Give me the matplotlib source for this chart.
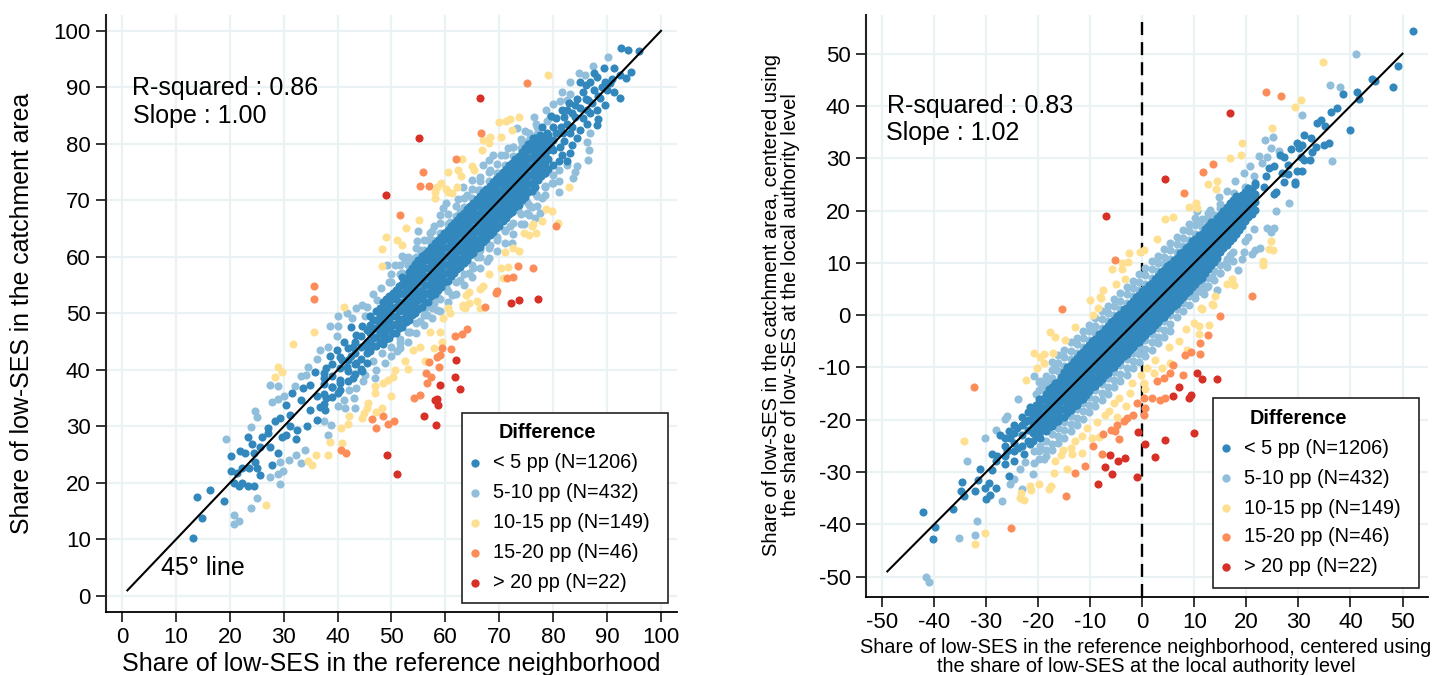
import numpy as np
import matplotlib
matplotlib.use('Agg')
import matplotlib.pyplot as plt
from matplotlib.lines import Line2D
from matplotlib.patches import Rectangle

plt.rcParams['font.family'] = ['Liberation Sans', 'DejaVu Sans']
plt.rcParams['axes.unicode_minus'] = False

W, H = 1435, 675
BLUE, LIGHT, YELLOW, ORANGE, RED = '#3288bd', '#91bfdb', '#fee090', '#fc8d59', '#d73027'
legend_labels = ['< 5 pp (N=1206)', '5-10 pp (N=432)', '10-15 pp (N=149)', '15-20 pp (N=46)', '> 20 pp (N=22)']

# left panel, values
l_red = [(66.4,88.2),(55.1,81),(48.9,71),(72.2,51.8),(73.6,52.3),(77.1,52.5),(49.2,25),(51,21.6),(56,31.9),(58.2,30.3),
         (58.4,34.8),(58.1,34.7),(58.7,33.8),(59,37.4),(62.8,36.6),(61.8,38.7),(61.9,41.7)]
l_orange = [(75.1,90.7),(66.6,82),(62,77.3),(55.9,75),(55.3,72.5),(56.9,72.6),(51.5,67.4),(80.5,65.4),(73.5,58.4),(76.2,58.1),
            (71.4,56.3),(72.5,56.5),(69.5,54),(69.4,53.6),(67.4,51.2),(35.7,54.8),(35.6,52.6),(40.7,25.9),(41.5,25.3),(46.4,31.3),
            (47.1,29.7),(48.5,31.8),(49.4,30.5),(50.5,30.9),(54.2,35.1),(55.3,35.5),(56.5,37.6),(56.4,39.4),(57.4,38.8),(58.8,40.6),
            (57,41.4),(58.4,42.3),(59,42.7),(59.3,43.8),(61,43.7),(61.8,46),(63,46.4),(64.1,47.2)]
l_yellow = [(79,92.2),(73.7,84.8),(71.9,84.4),(71.2,84.1),(70,83.9),(72.4,82.5),(70.3,81.2),(68.3,81.3),(66.9,80.7),(68,80.1),
            (66.7,78.9),(63,77.4),(65,76),(65.3,75.4),(60.5,75.1),(62.3,75.3),(62.9,74.3),(59.1,73.1),(58.4,72.3),(58.1,71.4),
            (58,70.5),(60.1,72),(60.5,71.5),(61.2,71.3),(62.2,72.3),(55.1,66.6),(52.6,65.1),(48.9,63.6),(51.1,63),(51.9,62.1),
            (48.3,61.4),(48.2,58.4),(83,72.4),(78.6,68.5),(79.8,68.1),(80.8,66),(78,66.4),(76.3,65.9),(76,65.4),(74.5,64.3),
            (75.5,63.9),(76.9,64.2),(72.6,61.6),(73.7,61),(71.1,60.8),(70.4,58),(71.7,58.3),(70.6,56.2),(68,56.9),(67,54.9),
            (66.4,54.3),(64.4,53.8),(63.8,53.3),(65.8,52.2),(64.3,51.8),(63.3,51.5),(63.6,50.9),(60.5,50.9),(66.4,50.9),(35.6,46.7),
            (31.7,44.6),(28.9,40.6),(29.6,39.7),(28.4,38.7),(41.1,51.2),(26.7,16.1),(35.9,25),(38.3,25),(34.6,23.9),(35.2,23.1),
            (38.6,27.2),(40.8,27.1),(40.6,29.7),(41.9,30.5),(42.1,31.9),(44.5,31.5),(44.9,32.3),(45.7,34.2),(45.5,33.2),(47.2,32.5),
            (48.2,33.3),(50,35.4),(47,37.1),(47,35.9),(48.5,37.6),(49.4,38.2),(50.3,38.8),(50.6,40),(52.5,41.5),(53.1,40.1),
            (53.9,43.6),(55.3,44.1),(57.1,46.8),(59,46.8),(57.8,43.8),(59.3,45),(56.2,41.6),(59.6,49.2),(60.9,50),(63.3,51.2)]
l_light = [(90.1,95.3),(87.4,93.7),(84.7,92.5),(85.9,92.2),(83.2,91),(81.6,89.2),(83.1,88.8),(82.5,87.8),(81.3,87.5),(80,87),
           (78.6,86),(79.4,84.8),(78.8,84.1),(76.4,84.7),(76.8,83.6),(77,83),(73.2,82.8),(74.8,82.2),(74.2,80.4),(72.6,79.5),
           (71.7,79.2),(70.4,78),(68.9,78),(68,77.2),(67,76.2),(68.3,75.4),(66.4,74.2),(64.9,73.6),(63.2,72.4),(66.1,71.8),
           (64,71),(62.4,70.2),(60.2,69.6),(59.6,68.6),(59,67.4),(60.9,66.2),(62.7,68),(57.8,65.4),(57.1,64.2),(54.9,64.6),
           (56.8,63),(54.7,62.8),(55.3,61.2),(54,59.7),(51.9,60.2),(52.5,59.5),(50.6,58.6),(49.1,58.6),(51.9,57.1),(86.8,81.9),
           (86.2,80.4),(86.7,78.9),(86.5,77.2),(84.4,76),(82.5,76.3),(81,75.4),(84,75.1),(83.6,73.9),(81,73.4),(79.7,73),
           (78.5,72.4),(81,71.4),(76.9,71.2),(77.9,70.4),(75.1,69.8),(76,68.9),(73.5,68.3),(75.1,67.7),(77.6,67.8),(76.6,66.8),
           (74.5,65.9),(72,65.4),(71.1,64.8),(69.5,63.6),(72.3,62.4),(68.3,62.1),(66.4,61.2),(65.8,60),(67.7,59.2),(65.2,58),
           (64.3,57.1),(62.7,55.9),(60.2,54.7),(61.2,53.3),(58.4,53),(57.8,51.8),(56.2,50.9),(19.3,27.8),(20.8,14.3),(21.7,13.3),
           (20.7,12.8),(23.9,15.6),(25.1,17.4),(29.4,19.8),(27.5,21.1),(29,21.5),(29.9,22.1),(29.4,23.7),(31,24),(32.3,24.9),
           (33.9,25.9),(33.3,23.6),(38.3,28.5),(37.5,31),(38.8,30.3),(40,33.6),(41.4,33.2),(43.2,33.3),(41.2,34.7),(43.1,35),
           (42.2,36.4),(43.5,36.8),(44.8,38),(45.1,39.1),(47,38.5),(47.2,40),(46.6,41.5),(48.8,41.2),(48.2,43),(51,43.3),
           (51.6,44.7),(53.4,46.8),(55.3,48.6),(56.5,49.7),(58.4,50.6),(24.6,32.8),(25,31.6),(23.9,29.9),(27.8,34.3),(29,34.9),
           (30.1,35.4),(27.5,37.4),(29,37.2),(32.1,37.2),(34.5,40.6),(33.3,39),(34.1,39.1),(36.1,41.9),(36.7,43.6),(38.3,44.1),
           (38.6,47.7),(40,47.8),(39.8,46),(40.1,49.5),(41.7,50),(42.6,49.2),(44.5,51.5),(45.4,51.2),(47.3,52.4),(45,49.5),
           (43.4,51),(46.5,53.5),(48,54.5),(49.5,55.5)]
l_light_x = [50,51.5,53,54.5,56,57.5,59,60.5,62,63.5,65,66.5,68,69.5,71,72.5,74,75.5,77,78.5,80]
l_light_y = [[42.5,44,55.6,57],[43.8,45.5,57,58.5],[45,46.8,58.5,60],[46.5,48.3,60,61.5],[48,49.8,61.2,63],[49.2,51,63,64.5],
             [50.5,52.5,64.2,66],[52,54,65.8,67.6],[53.5,55.5,67.2,69],[55,57,68.8,70.5],[56.5,58.5,70.4,72],[58,60,71.8,73.5],
             [59.8,61.6,73.4,75],[61,63,74.8,76.5],[62.5,64.6,76.3,78],[64,66,77.8,79.5],[65.8,67.6,79.2,80.8],[67.5,69.2,80.6,82],
             [69,70.8,81.8],[71,72.6],[73,74.5]]
l_blue = [(13.1,10.3),(14.8,13.8),(13.9,17.5),(16.3,18.7),(18.9,16.8),(20.3,24.8),(20.2,22.1),(20.7,20),(21.7,19.4),(22.2,20),
          (23.3,19.5),(24.4,19.5),(25.6,21.4),(25,22.6),(23.6,22.6),(22.2,22.7),(21.3,21.7),(24.7,23.7),(21.9,25.6),(22.8,25.3),
          (24.4,25.3),(23.3,28.2),(24.2,26.9),(25.6,26.4),(26,28.1),(27.1,29.7),(27.5,26.4),(28.9,25.3),(27.8,23.2),(27.1,28.8),
          (29.6,28.2),(30.5,28.5),(32.2,27.8),(32.4,29.4),(34.3,30.1),(31.2,30),(29.3,31.5),(28.4,30.9),(31.2,32),(30.5,33.8),
          (31.5,35.9),(33.3,34.7),(33.6,36.8),(34.9,37.4),(35.8,39.7),(36.1,31.2),(34.9,32.9),(36.7,33.5),(37.9,35),(36.1,35.3),
          (37.7,32.9),(37.4,38.5),(38.9,37),(40.4,37.6),(40.1,35.9),(42.9,38.5),(37.9,40.3),(38.6,42.4),(39.8,43.6),(41.7,40.6),
          (43.5,41.2),(41.1,45),(43.5,46.2),(45.4,44.1),(42.9,44.1),(44.6,39.8),(40.8,41.8),(42.5,42.5),(44.5,47.8),(42.5,47.6),
          (92.6,97),(93.8,96.6),(96,96.5),(89.5,93.4),(91.3,93.5),(94.4,92.8),(93.5,91.6),(92.4,88.2),(91.2,89.2),(88.1,91.9),
          (86.8,91),(87.5,89.5),(89.6,91),(85.6,89.2),(88.7,88.2),(89.7,86.9),(84.4,88),(86.5,87.8),(85,86.3),(88.1,86),
          (86.8,85.4),(88.4,84.4),(88.1,83.3),(86.2,83.6),(84,84.8),(82.5,86),(81.6,86),(80.6,84.5),(82.5,83.6),(85,82.5),
          (84.4,81),(83.1,81.9),(81.9,81.9),(80,83),(78.8,81.9),(77.6,81.6),(76.3,81),(80,80.7),(81.3,79.5),(83.4,79.8),
          (83.1,78.3),(81.6,78),(80,78.9),(80,76.3),(78.5,74.8),(92.4,92.2),(90.5,90.7),(88.4,88.4),(86.2,86),(87.2,87.2),
          (85.5,84.5),(83.5,85.5),(81.5,83),(83.5,83),(79.5,79.5),(82,80.5),(90,89.5),(91,91.5),(86,90.5),(84,86.8),
          (89,90),(87.5,92.5),(86,88),(85,91),(83,87.3),(82,84.8),(80.5,82),(79.5,85),(81,77),(82.5,77),(78,83)]
l_band_x = [46,47.2,48.4,49.6,50.8,52,53.2,54.4,55.6,56.8,58,59.2,60.4,61.6,62.8,64,65.2,66.4,67.6,68.8,70,71.2,72.4,73.6,74.8,76,77.2,78.4,
            46.6,47.8,49,50.2,51.4,52.6,53.8,55,56.2,57.4,58.6,59.8,61,62.2,63.4,64.6,65.8,67,68.2,69.4,70.6,71.8,73,74.2,75.4,76.6,77.8,79,
            37.5,39,40.5,42,43.2,44.4,45.4]
l_band_y = [[43.4,45,46.5,48,49.6],[44.2,45.9,47.4,48.9,50.4],[44.6,46.1,47.6,49.1,50.6,52.1],[45.7,47.2,48.7,50.2,51.7,53.1],
            [46.6,48.1,49.6,51.1,52.6,54.1],[47.6,49.1,50.6,52.1,53.6,55.2,56.4],[48.9,50.4,51.9,53.4,54.9,56.4,57.4],
            [50,51.5,53,54.5,56,57.5,58.8],[51.2,52.7,54.2,55.7,57.2,58.7,60.1],[52.1,53.6,55.1,56.6,58.1,59.6,61.1],
            [53.4,54.9,56.4,57.9,59.4,60.9,62.4],[54.7,56.2,57.7,59.2,60.7,62.2,63.6],[55.8,57.3,58.8,60.3,61.8,63.3,64.8],
            [57.1,58.6,60.1,61.6,63.1,64.6,66],[58.2,59.7,61.2,62.7,64.2,65.7,67.2],[59.5,61,62.5,64,65.5,67,68.4],
            [60.7,62.2,63.7,65.2,66.7,68.2,69.6],[61.8,63.3,64.8,66.3,67.8,69.3,70.7],[63.1,64.6,66.1,67.6,69.1,70.6,72],
            [64.4,65.9,67.4,68.9,70.4,71.9,73.2],[65.5,67,68.5,70,71.5,73,74.4],[66.8,68.3,69.8,71.3,72.8,74.3,75.5],
            [68,69.5,71,72.5,74,75.5,76.7],[69.2,70.7,72.2,73.7,75.2,76.7,77.9],[70.6,72.1,73.6,75.1,76.6,78.1,79.2],
            [71.6,73.1,74.6,76.1,77.6,79.1,80.4],[73.6,75.1,76.6,78.1,79.6,80.9],[74.8,76.6,78.1,79.6,81],
            [44.2,45.7,47.2,48.8],[45,46.6,48.1,49.7,51],[45.4,46.9,48.4,49.9,51.4,52.6],[46.5,48,49.5,51,52.5,53.7],
            [47.4,48.9,50.4,51.9,53.4,54.8],[48.4,49.9,51.4,52.9,54.4,55.9],[49.7,51.2,52.7,54.2,55.7,57.2,58],
            [50.8,52.3,53.8,55.3,56.8,58.3,59.4],[52,53.5,55,56.5,58,59.5,60.6],[53,54.5,56,57.5,59,60.5,61.8],
            [54.2,55.7,57.2,58.7,60.2,61.7,63],[55.5,57,58.5,60,61.5,63,64.2],[56.6,58.1,59.6,61.1,62.6,64.1,65.4],
            [57.9,59.4,60.9,62.4,63.9,65.4,66.6],[59,60.5,62,63.5,65,66.5,67.8],[60.3,61.8,63.3,64.8,66.3,67.8,69],
            [61.5,63,64.5,66,67.5,69,70.2],[62.6,64.1,65.6,67.1,68.6,70.1,71.4],[63.9,65.4,66.9,68.4,69.9,71.4,72.6],
            [65.2,66.7,68.2,69.7,71.2,72.7,73.8],[66.3,67.8,69.3,70.8,72.3,73.8,75],[67.6,69.1,70.6,72.1,73.6,75.1,76.2],
            [68.8,70.3,71.8,73.3,74.8,76.3,77.3],[70,71.5,73,74.5,76,77.5,78.6],[71.4,72.9,74.4,75.9,77.4,78.9,79.9],
            [72.4,73.9,75.4,76.9,78.4,79.9,81],[74.4,75.9,77.4,78.9,80.4],[75.6,77.4,78.9,80.4,81.6],
            [34,35.8,37.5,39.5],[35.2,37,39,41],[36.5,38.3,40.3,42.3],[38,39.8,41.8,43.8],[39.3,41,43,45],[40.2,42,44,46],[41.2,43,45,47]]

# right panel
r_red = [(16.8,38.6),(4.4,26),(-6.9,18.9),(-8.5,-32.2),(-5.9,-30.3),(-7.2,-29.1),(-6.3,-26.7),(-4.6,-27.8),(-3.3,-27.4),(-1,-31),
         (-0.9,-22.3),(0.5,-24.6),(2.4,-27.2),(4.3,-23.8),(10,-22.5),(5.9,-15.4),(7,-13.8),(8.9,-15.8),(9.3,-15.2),(10.5,-11.1),
         (11.4,-12.2),(14.3,-12.2)]
r_orange = [(23.8,42.7),(26.7,41.9),(13.5,29),(11.6,27.3),(8.1,23.4),(-5.2,10.5),(21,3.6),(-32.3,-13.7),(-15.4,1.1),(-25.3,-40.7),
            (-14.6,-34.6),(-13,-30.1),(-11.1,-28.8),(-9.4,-25.1),(-7.8,-26.6),(-7.5,-22.8),(-6.1,-21.9),(-4.5,-23.7),(-5.2,-22.2),(-4.8,-21.1),
            (-3.6,-20.3),(-2.9,-19.6),(-1.8,-19),(-1,-16.8),(0.3,-19),(0.6,-17.8),(0.3,-15.8),(1.8,-15.8),(3.4,-16.2),(4.3,-15.8),
            (2.9,-12.5),(4.1,-12),(5.4,-11),(5.9,-9.6),(7.9,-11.4),(8.2,-7.7),(9.4,-7.1),(11,-7.4),(11,-5.3),(12.7,-3.8),(15,-0.1)]
r_yellow = [(34.8,48.4),(30.4,41.1),(29.3,39.8),(25,35.8),(19.2,33),(18.9,30.7),(16.9,30),(14.3,25.6),(12.6,25),(14.2,24.1),
            (10.4,21.5),(9,20.7),(10.5,20.4),(5.9,18.7),(4.4,18.3),(2.8,14.6),(0.4,12.5),(-0.4,12.1),(-2.6,11.8),(-2.8,10.2),
            (-3.9,10),(-3.9,8.9),(-5.8,8.8),(-3.3,7),(-5.1,5.9),(-7.6,4.9),(-8.1,3.5),(24.8,14.1),(24.3,12.7),(25.1,12.4),
            (23.1,10.4),(23.1,9.5),(17.2,7),(16.3,6),(17.6,5.7),(14,3.6),(13.4,2.2),(11.3,1.3),(-34.3,-24.1),(-32.1,-43.7),
            (-30.2,-41.7),(-23.4,-34),(-23.6,-34.9),(-22.8,-35.4),(-21.5,-32.7),(-21.3,-33.5),(-19.8,-32.3),(-18,-33.2),(-17.5,-32.6),(-17,-30.1),
            (-14.5,-29.4),(-16.7,-27.8),(-15.7,-26.8),(-15.2,-25.8),(-13.6,-26.6),(-13.8,-25.4),(-11.6,-26.4),(-12.9,-24.1),(-11.6,-23.1),(-10.6,-21.5),
            (-9.6,-23.5),(-8.7,-20.4),(-8.4,-23.3),(-7.2,-19),(-6.4,-18.4),(-4.8,-19.5),(-5.5,-16.8),(-4.5,-15.8),(-3.2,-17.4),(-2.3,-14.9),
            (-2,-13),(-0.3,-11.4),(0.3,-12.9),(0.6,-14.2),(0.9,-10.1),(2.2,-11),(2.5,-8.5),(3.8,-10.1),(5.4,-9.1),(5.1,-6.1),
            (7,-5),(8.3,-2.7),(8.6,-6.6),(9.9,-1.5),(10.9,-2.1),(10.9,-3.7),(12.8,-1.8),(11.5,1.1),(13.6,2),(-22.3,-12.4),
            (-20.2,-10.1),(-20.9,-7.3),(-19.6,-8),(-18.8,-7.5),(-18.9,-9.1),(-17.1,-7.3),(-14.8,-4.8),(-17.7,-3.2),(-16.8,-4.2),(-12.9,-2.2),
            (-9.5,0.1),(-8.6,1.3),(-10,2.9),(-8,3.2)]
r_light = [(41.1,50),(36.1,44),(37.9,43.7),(30.7,38.2),(23.6,33.4),(25.1,34.1),(24.8,32),(26.2,31.4),(22.5,30.5),(24,30.3),
           (36.4,29.4),(23,29.1),(20.6,28.5),(19.5,27.1),(21.4,26.7),(17.9,25.6),(19.7,24.6),(16.3,23.8),(17.6,23.4),(14.7,22.6),
           (15,21.3),(13.1,20.2),(10.6,20),(28.1,21.5),(25.6,20),(24,16.6),(25.3,16.6),(24.7,15.9),(21.5,16.4),(20.4,15),
           (19.7,14.1),(22.7,12.9),(21.7,12.4),(21.1,11.6),(19.5,12.1),(19.2,10.8),(18.3,8.7),(16.9,11.5),(16,9.9),(15,8),
           (13.4,7.3),(14.4,4.9),(12.4,5.4),(10.8,5.4),(11.8,4.1),(10.2,4.1),(12.4,18.5),(11.1,17.5),
           (-41.6,-50),(-40.9,-51.1),(-35.3,-42.6),(-32.1,-42.1),(-31.7,-39.3),(-33.7,-27.9),(-30.2,-23.5),(-26.9,-35.6),(-23.1,-33.3),(-25.5,-32.2),
           (-24.7,-31.4),(-23.6,-29.5),(-21.1,-30.3),(-22.5,-28.1),(-20.9,-28.2),(-18.9,-27.6),(-20.9,-26),(-19.6,-25),(-28.2,-21.9),(-26.3,-19.9),
           (-26,-19.3),(-23.9,-16.1),(-20.5,-15),(-19.3,-13.9),(-20.9,-11.7),(-19.6,-12.6),(-17.7,-12.4),(-16.7,-9.8)]
r_light_x = [-19.8,-18.6,-17.4,-16.2,-15,-13.8,-12.6,-11.4,-10.2,-9,-7.8,-6.6,-5.4,-4.2,-3,-1.8,-0.6,0.6,1.8,3,4.2,5.4,6.6,7.8,9,10.2,11.4,12.6,13.8,15,16.2,17.4]
r_light_y = [[-14.4,-12.8,-26,-27.5],[-13,-11.6,-24,-25.8,-27],[-12,-10.5,-9,-22.8,-24.6,-25.8],[-10.6,-9.2,-7.6,-21.6,-23.2,-24.4],
             [-9.7,-8,-6.6,-20.4,-22,-23.5],[-8.4,-6.9,-5.2,-19.2,-20.8,-22.2],[-7.2,-5.6,-4.3,-18,-19.7,-21],[-6,-4.3,-3,-16.8,-18.4,-19.9],
             [-4.8,-3.1,-1.8,-15.6,-17.2,-18.6],[-3.5,-2,-0.6,-14.4,-16.1,-17.4],[-2.4,-0.8,0.7,-13.2,-14.8,-16.2],[-1.2,0.4,1.8,-12,-13.7,-15],
             [0,1.7,3,-10.8,-12.4,-13.8],[1.2,2.8,4.3,-9.6,-11.2,-12.5],[2.4,4,5.4,-8.4,-10.1,-11.4],[3.7,5.2,6.6,-7.2,-8.8,-10.2],
             [4.8,6.4,7.8,-6,-7.5,-9],[6,7.7,9,-4.8,-6.4,-7.8],[7.2,8.8,10.3,-3.6,-5.2,-6.6],[8.4,10,11.4,-2.4,-4.1,-5.4],[9.7,11.2,12.6,-1.2,-2.8,-4.2],
             [10.8,12.4,13.8,0,-1.6,-3],[12,13.7,15,1.2,-0.4],[13.2,14.8,16.2,2.4,0.8],[14.4,16,17.4,3.6,2],[15.6,17.2,18.6,4.8,3.2],
             [16.8,18.4,6,4.4],[18,19.6,7.2,5.6],[19.2,8.4,6.8],[20.4,9.6,8],[10.8,9.2],[12,10.4]]
r_blue = [(52,54.3),(49.1,47.7),(48.1,43.6),(44.2,45.2),(44.8,44.8),(41.2,42.7),(38.5,42.3),(41.6,41.4),(37.5,39.6),(36.3,38.8),
          (34.4,37.3),(33.6,36.8),(35.1,36.1),(39.9,35.5),(31,34.5),(32.4,33.8),(28.6,31.8),(29.7,32.9),(30.7,32.5),(30.2,32),
          (33.3,32.2),(35.8,32.9),(35,32.5),(32.6,31.2),(30.4,30.3),(31,29.6),(32.3,29.6),(26.5,30.6),(27.2,30.3),(27.9,28.8),
          (25.4,28.5),(24.3,28.2),(26.9,27.2),(23.8,26.6),(27.9,27),(29.7,27.5),(30.7,27.5),(27.3,25.4),(29.3,25.4),(29.4,25),
          (25.3,23.2),(25.6,23.6),(23.3,24.5),(21.7,25.2),(-42.2,-37.6),(-39.8,-40.5),(-40.3,-42.8),(-36.4,-37),(-34.6,-31.9),(-34.8,-33.7),
          (-34.2,-34.6),(-32.1,-33.7),(-31.6,-31.6),(-30,-35.1),(-29.2,-34.3),(-28.1,-33),(-30.2,-33),(-29.5,-32.1),(-25.7,-30.8),(-31.1,-29.5),
          (-28.9,-29.7),(-28.2,-27.9),(-28.9,-26.6),(-27.9,-27),(-26.3,-28.4),(-26,-26),(-24.7,-27.9),(-27.3,-23),(-25.4,-23.5),(-25.7,-22.2),
          (-24.1,-21.5),(-22.6,-20.5),(-21.3,-20),(-22.8,-26.6),(-23.8,-25.4),(-21.5,-24.7),(-21.5,-17.5),(-19.9,-16.1),(-19.6,-23.5),(-19,-20.9)]
r_band_x = [-21,-19.8,-18.6,-17.4,-16.2,-15,-13.8,-12.6,-11.4,-10.2,-9,-7.8,-6.6,-5.4,-4.2,-3,-1.8,-0.6,0.6,1.8,3,4.2,5.4,6.6,7.8,9,10.2,11.4,12.6,13.8,15,16.2,17.4,18.6,19.8,21,
            -20.4,-19.2,-18,-16.8,-15.6,-14.4,-13.2,-12,-10.8,-9.6,-8.4,-7.2,-6,-4.8,-3.6,-2.4,-1.2,0,1.2,2.4,3.6,4.8,6,7.2,8.4,9.6,10.8,12,13.2,14.4,15.6,16.8,18,19.2,20.4,21.6,
            -26.4,-24.6,-23.2,-22]
r_band_y = [[-24,-22.5,-21,-19.5,-18],[-22.8,-21.3,-19.8,-18.3,-16.8],[-22.2,-20.7,-19.2,-17.7,-16.2,-15],[-21.2,-19.7,-18.2,-16.7,-15.2,-13.8],
            [-20.2,-18.7,-17.2,-15.7,-14.2,-12.7],[-19.5,-18,-16.5,-15,-13.5,-12,-10.8],[-18.1,-16.6,-15.1,-13.6,-12.1,-10.6,-9.6],
            [-17.1,-15.6,-14.1,-12.6,-11.1,-9.6,-8.2],[-16,-14.5,-13,-11.5,-10,-8.5,-7],[-14.5,-13,-11.5,-10,-8.5,-7,-5.7],
            [-13.5,-12,-10.5,-9,-7.5,-6,-4.5],[-12.3,-10.8,-9.3,-7.8,-6.3,-4.8,-3.4],[-11,-9.5,-8,-6.5,-5,-3.5,-2.1],
            [-9.9,-8.4,-6.9,-5.4,-3.9,-2.4,-1],[-8.6,-7.1,-5.6,-4.1,-2.6,-1.1,0.3],[-7.5,-6,-4.5,-3,-1.5,0,1.4],
            [-6.1,-4.6,-3.1,-1.6,-0.1,1.4,2.7],[-5.1,-3.6,-2.1,-0.6,0.9,2.4,3.9],[-3.8,-2.3,-0.8,0.7,2.2,3.7,5],
            [-2.7,-1.2,0.3,1.8,3.3,4.8,6.2],[-1.4,0.1,1.6,3.1,4.6,6.1,7.4],[-0.3,1.2,2.7,4.2,5.7,7.2,8.6],
            [1,2.5,4,5.5,7,8.5,9.8],[2.1,3.6,5.1,6.6,8.1,9.6,11],[3.4,4.9,6.4,7.9,9.4,10.9,12.1],[4.6,6.1,7.6,9.1,10.6,12.1,13.3],
            [6,7.5,9,10.5,12,13.5,14.6],[7.2,8.7,10.2,11.7,13.2,14.7,15.6],[8.8,10.3,11.8,13.3,14.8,16.2,17],[10.2,11.7,13.2,14.7,16.2,17.8],
            [12,13.5,15,16.5,18,19.2],[13.4,14.9,16.4,17.9,19.4,20.6],[14.8,16.3,17.8,19.3,20.8,22],[16.2,17.7,19.2,20.7,22.2],
            [18,19.5,21,22.5,23.5],[19.4,20.9,22.4,24],
            [-23.2,-21.7,-20.2,-18.7,-17.2],[-22,-20.5,-19,-17.5,-16],[-21.4,-19.9,-18.4,-16.9,-15.4,-14.2],[-20.4,-18.9,-17.4,-15.9,-14.4,-13],
            [-19.4,-17.9,-16.4,-14.9,-13.4,-11.9],[-18.7,-17.2,-15.7,-14.2,-12.7,-11.2,-10],[-17.3,-15.8,-14.3,-12.8,-11.3,-9.8,-8.8],
            [-16.3,-14.8,-13.3,-11.8,-10.3,-8.8,-7.4],[-15.2,-13.7,-12.2,-10.7,-9.2,-7.7,-6.2],[-13.7,-12.2,-10.7,-9.2,-7.7,-6.2,-4.9],
            [-12.7,-11.2,-9.7,-8.2,-6.7,-5.2,-3.7],[-11.5,-10,-8.5,-7,-5.5,-4,-2.6],[-10.2,-8.7,-7.2,-5.7,-4.2,-2.7,-1.3],
            [-9.1,-7.6,-6.1,-4.6,-3.1,-1.6,-0.2],[-7.8,-6.3,-4.8,-3.3,-1.8,-0.3,1.1],[-6.7,-5.2,-3.7,-2.2,-0.7,0.8,2.2],
            [-5.3,-3.8,-2.3,-0.8,0.7,2.2,3.5],[-4.3,-2.8,-1.3,0.2,1.7,3.2,4.7],[-3,-1.5,0,1.5,3,4.5,5.8],[-1.9,-0.4,1.1,2.6,4.1,5.6,7],
            [-0.6,0.9,2.4,3.9,5.4,6.9,8.2],[0.5,2,3.5,5,6.5,8,9.4],[1.8,3.3,4.8,6.3,7.8,9.3,10.6],[2.9,4.4,5.9,7.4,8.9,10.4,11.8],
            [4.2,5.7,7.2,8.7,10.2,11.7,12.9],[5.4,6.9,8.4,9.9,11.4,12.9,14.1],[6.8,8.3,9.8,11.3,12.8,14.3,15.4],[8,9.5,11,12.5,14,15.5,16.4],
            [9.6,11.1,12.6,14.1,15.6,17,17.8],[11,12.5,14,15.5,17,18.6],[12.8,14.3,15.8,17.3,18.8,20],[14.2,15.7,17.2,18.7,20.2,21.4],
            [15.6,17.1,18.6,20.1,21.6,22.8],[17,18.5,20,21.5,23],[18.8,20.3,21.8,23.3,24.3],[20.2,21.7,23.2,24.8],
            [-27,-25,-23.5],[-26,-24.4,-22.5,-21],[-25,-23,-21,-19.5],[-24,-22,-20,-18.5]]


def pts(pairs):
    a = np.array(pairs, dtype=float)
    return a[:, 0], a[:, 1]


def columns(col_x, col_y):
    x = [v for v, col in zip(col_x, col_y) for _ in col]
    y = [w for col in col_y for w in col]
    return x, y


def draw_panel(ax, light, light_x, light_y, yellow, orange, red, blue, band_x, band_y):
    ms = 34
    x, y = pts(light)
    ax.scatter(x, y, s=ms, color=LIGHT, linewidths=0, zorder=3)
    x, y = columns(light_x, light_y)
    ax.scatter(x, y, s=ms, color=LIGHT, linewidths=0, zorder=3)
    for pairs, c in [(yellow, YELLOW), (orange, ORANGE), (red, RED)]:
        x, y = pts(pairs)
        ax.scatter(x, y, s=ms, color=c, linewidths=0, zorder=3)
    x, y = pts(blue)
    ax.scatter(x, y, s=ms, color=BLUE, linewidths=0, zorder=4)
    x, y = columns(band_x, band_y)
    ax.scatter(x, y, s=ms, color=BLUE, linewidths=0, zorder=4)
    ax.grid(True, color='#eaf2f3', lw=1.6)
    ax.set_axisbelow(True)
    ax.spines['top'].set_visible(False)
    ax.spines['right'].set_visible(False)
    ax.spines['left'].set_linewidth(1.5)
    ax.spines['bottom'].set_linewidth(1.3)
    ax.spines['left'].set_color('#222222')
    ax.tick_params(axis='both', labelsize=16, length=7, width=1.1, pad=4)


def px_box(l, t, r, b):
    return [l / W, 1 - b / H, (r - l) / W, (b - t) / H]


def put(x, y, s, size, **kw):
    fig.text(x / W, 1 - y / H, s, fontsize=size, va='center', **kw)


def legend_box(l, t, r, b, dot_x, text_x, title_x, title_y, rows):
    fig.add_artist(Rectangle((l / W, 1 - b / H), (r - l) / W, (b - t) / H, transform=fig.transFigure,
                             fc='white', ec='#222222', lw=1.2, zorder=6))
    put(title_x, title_y, 'Difference', 14.3, fontweight='bold', zorder=7)
    for yy, c, lab in zip(rows, [BLUE, LIGHT, YELLOW, ORANGE, RED], legend_labels):
        fig.add_artist(Line2D([dot_x / W], [1 - yy / H], transform=fig.transFigure, marker='o', ms=6,
                              mfc=c, mec=c, mew=0, ls='none', zorder=7))
        put(text_x, yy, lab, 14.3, zorder=7)


fig = plt.figure(figsize=(W / 100, H / 100), dpi=100)
ax1 = fig.add_axes(px_box(106, 15, 677, 612))
ax2 = fig.add_axes(px_box(866, 15, 1428, 597))

draw_panel(ax1, l_light, l_light_x, l_light_y, l_yellow, l_orange, l_red, l_blue, l_band_x, l_band_y)
ax1.plot([1, 100], [1, 100], color='black', lw=1.5, zorder=5)
ax1.set_xlim(-2.97, 102.97)
ax1.set_ylim(-2.83, 102.8)
ax1.set_xticks(range(0, 101, 10))
ax1.set_yticks(range(0, 101, 10))

draw_panel(ax2, r_light, r_light_x, r_light_y, r_yellow, r_orange, r_red, r_blue, r_band_x, r_band_y)
ax2.plot([-49, 50], [-49, 50], color='black', lw=1.5, zorder=5)
ax2.plot([0, 0], [-53.9, 56.4], color='black', lw=1.7, ls=(0, (5.5, 3)), zorder=2)
ax2.set_xlim(-53.1, 54.9)
ax2.set_ylim(-53.9, 57.4)
ax2.set_xticks(range(-50, 51, 10))
ax2.set_yticks(range(-50, 51, 10))

put(132, 88, 'R-squared : 0.86', 18)
put(133, 116, 'Slope : 1.00', 18)
put(161, 568, '45° line', 18)
put(887, 106, 'R-squared : 0.83', 18)
put(886, 133, 'Slope : 1.02', 18)

put(391, 664, 'Share of low-SES in the reference neighborhood', 18, ha='center')
put(22, 313, 'Share of low-SES in the catchment area', 17.9, ha='center', rotation=90)
fig.text(1146 / W, 1 - 657 / H, 'Share of low-SES in the reference neighborhood, centered using\nthe share of low-SES at the local authority level',
         fontsize=14.4, ha='center', va='center', linespacing=0.96)
fig.text(781 / W, 1 - 305 / H, 'Share of low-SES in the catchment area, centered using\nthe share of low-SES at the local authority level',
         fontsize=14.5, ha='center', va='center', rotation=90, linespacing=1.05)

legend_box(462, 413, 668, 603, 475, 493, 499, 433, [463, 493, 523, 553, 583])
legend_box(1213, 398, 1419, 588, 1226, 1244, 1250, 418, [448, 478, 508, 537, 567])

fig.savefig('out.png', dpi=100)
